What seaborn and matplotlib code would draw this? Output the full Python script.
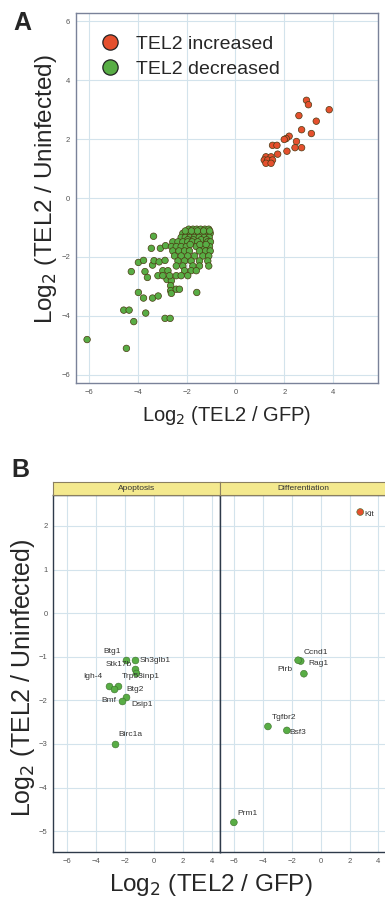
import pandas as pd
import matplotlib.pyplot as plt
from matplotlib.lines import Line2D
import seaborn as sns

sns.set_theme(style="whitegrid")
plt.rcParams['font.family'] = ['Liberation Sans', 'DejaVu Sans']

# ---- Panel A data: genes with TEL2 increased / decreased ----
inc_x = [2.91, 2.99, 3.84, 2.60, 3.31, 2.71, 3.11, 2.20, 2.08, 2.00, 2.50, 1.52,
         1.70, 2.44, 2.71, 2.11, 1.73, 1.25, 1.46, 1.18, 1.32, 1.52, 1.25, 1.46]
inc_y = [3.32, 3.17, 3.00, 2.80, 2.61, 2.32, 2.19, 2.10, 2.02, 1.99, 1.92, 1.79,
         1.79, 1.71, 1.71, 1.59, 1.49, 1.40, 1.40, 1.29, 1.29, 1.29, 1.18, 1.18]

dec_x = [-6.07, -4.46, -4.57, -4.35, -4.16, -3.67, -2.88, -2.67, -3.97, -3.76,
         -3.39, -3.16, -1.58, -4.26, -3.70, -3.60, -3.97, -3.76, -3.39, -3.33,
         -3.12, -2.88, -2.80, -3.44, -3.07, -2.86, -3.35,
         -2.62, -2.65, -2.65, -2.62, -2.42, -2.29,
         -1.91, -1.74, -1.58, -1.42, -1.25, -1.09,
         -2.15, -1.99, -1.82, -1.66, -1.50, -1.33, -1.17, -1.03,
         -2.05, -1.80, -1.55, -1.30, -1.05,
         -2.22, -2.05, -1.86, -1.68, -1.48, -1.27, -1.07,
         -1.95, -1.72, -1.40, -1.18,
         -2.56, -2.35, -2.15, -1.95, -1.77, -1.54, -1.13, -1.02,
         -2.62, -2.42, -2.22, -2.01, -1.60, -1.33, -1.06,
         -1.85, -1.45, -1.20,
         -2.56, -2.31, -2.08, -1.88, -1.47, -1.22, -1.03,
         -2.49, -2.22, -1.95, -1.67, -1.33, -1.09,
         -2.35, -2.08, -1.81, -1.47, -1.13,
         -2.42, -2.15, -1.74, -1.47, -1.09,
         -2.97, -2.76, -2.08, -1.81, -1.60,
         -3.17, -2.97, -2.69, -2.42, -2.22, -1.95]
dec_y = [-4.81, -5.11, -3.81, -3.81, -4.20, -3.91, -4.09, -4.09, -3.21, -3.40,
         -3.40, -3.33, -3.21, -2.50, -2.50, -2.70, -2.19, -2.12, -2.28, -2.13,
         -2.17, -2.12, -2.77, -1.71, -1.71, -1.62, -1.30,
         -2.81, -2.98, -3.15, -3.24, -3.10, -3.10,
         -1.06, -1.06, -1.06, -1.06, -1.06, -1.06,
         -1.20, -1.20, -1.20, -1.20, -1.20, -1.20, -1.20, -1.20,
         -1.12, -1.12, -1.12, -1.12, -1.12,
         -1.34, -1.34, -1.34, -1.34, -1.34, -1.34, -1.34,
         -1.42, -1.42, -1.42, -1.42,
         -1.49, -1.49, -1.49, -1.49, -1.49, -1.49, -1.49, -1.49,
         -1.65, -1.65, -1.65, -1.65, -1.65, -1.65, -1.65,
         -1.58, -1.58, -1.58,
         -1.80, -1.80, -1.80, -1.80, -1.80, -1.80, -1.80,
         -1.97, -1.97, -1.97, -1.97, -1.97, -1.97,
         -2.14, -2.14, -2.14, -2.14, -2.14,
         -2.31, -2.31, -2.31, -2.31, -2.31,
         -2.47, -2.47, -2.47, -2.47, -2.47,
         -2.64, -2.64, -2.64, -2.64, -2.64, -2.64]

# ---- Panel B data: apoptosis / differentiation genes ----
apo_genes = ["Btg1", "Sh3glb1", "Stk17b", "Trp53inp1", "Igh-4", "Btg2", "",
             "Dsip1", "Bmf", "Birc1a"]
apo_x = [-1.89, -1.29, -1.29, -1.20, -3.13, -2.50, -2.74, -1.93, -2.23, -2.71]
apo_y = [-1.08, -1.08, -1.29, -1.37, -1.67, -1.67, -1.75, -1.92, -2.02, -3.00]

dif_genes = ["Kit", "Ccnd1", "Pirb", "Rag1", "Tgfbr2", "Bsf3", "Prm1"]
dif_x = [2.74, -1.38, -1.56, -1.16, -3.65, -2.34, -6.01]
dif_y = [2.32, -1.10, -1.08, -1.39, -2.60, -2.69, -4.80]
dif_dir = ["up", "down", "down", "down", "down", "down", "down"]

# label placement (offset in pixels, alignment)
label_pos = {
    "Btg1": (-14, 9, "center"), "Sh3glb1": (4, 0, "left"),
    "Stk17b": (-3, 5, "right"), "Trp53inp1": (-15, -4, "left"),
    "Igh-4": (-6, 9, "right"), "Btg2": (9, -4, "left"),
    "Dsip1": (5, -8, "left"), "Bmf": (-5, 1, "right"),
    "Birc1a": (4, 9, "left"),
    "Kit": (4, -2, "left"), "Ccnd1": (3, 9, "left"), "Pirb": (-6, -9, "right"),
    "Rag1": (4, 10, "left"), "Tgfbr2": (4, 9, "left"), "Bsf3": (3, -2, "left"),
    "Prm1": (4, 9, "left"),
}

RED = "#e5502e"
GREEN = "#58ad45"
GRID = "#d3e3ec"
TICK = "#555555"

fig = plt.figure(figsize=(3.85, 9), dpi=100)

# ================= Panel A =================
dfa = pd.DataFrame({
    "x": inc_x + dec_x,
    "y": inc_y + dec_y,
    "grp": ["TEL2 increased"] * len(inc_x) + ["TEL2 decreased"] * len(dec_x),
})
axA = fig.add_axes([0.197, 0.574, 0.785, 0.412])
sns.scatterplot(data=dfa, x="x", y="y", hue="grp",
                palette={"TEL2 increased": RED, "TEL2 decreased": GREEN},
                s=22, edgecolor="#4a3a12", linewidth=0.5, legend=False, ax=axA)
axA.set_xlim(-6.53, 5.84)
axA.set_ylim(-6.3, 6.3)
axA.set_xticks([-6, -4, -2, 0, 2, 4])
axA.set_yticks([-6, -4, -2, 0, 2, 4, 6])
axA.set_xlabel("Log$_2$ (TEL2 / GFP)", fontsize=14.5, labelpad=6)
axA.set_ylabel("")
fig.text(0.12, 0.79, "Log$_2$ (TEL2 / Uninfected)", fontsize=17.5,
         ha="center", va="center", rotation=90)
handles = [Line2D([], [], marker="o", ls="", markersize=11, markerfacecolor=c,
                  markeredgecolor="#222222", markeredgewidth=0.9)
           for c in (RED, GREEN)]
axA.legend(handles, ["TEL2 increased", "TEL2 decreased"], loc="upper left",
           frameon=False, fontsize=14, handletextpad=0.3, labelspacing=0.35,
           borderaxespad=0.3, bbox_to_anchor=(0.005, 0.975))
fig.text(0.035, 0.975, "A", fontsize=18, fontweight="bold", va="center")

# ================= Panel B =================
dfb_apo = pd.DataFrame({"x": apo_x, "y": apo_y, "gene": apo_genes})
dfb_dif = pd.DataFrame({"x": dif_x, "y": dif_y, "gene": dif_genes, "dir": dif_dir})

axL = fig.add_axes([0.138, 0.0533, 0.434, 0.3967])
axR = fig.add_axes([0.5714, 0.0533, 0.434, 0.3967])
sns.scatterplot(data=dfb_apo, x="x", y="y", color=GREEN, s=24,
                edgecolor="#3b6e2a", linewidth=0.4, ax=axL)
sns.scatterplot(data=dfb_dif, x="x", y="y", hue="dir",
                palette={"up": RED, "down": GREEN}, s=24,
                edgecolor="#3b6e2a", linewidth=0.4, legend=False, ax=axR)

for ax, df, title in ((axL, dfb_apo, "Apoptosis"), (axR, dfb_dif, "Differentiation")):
    ax.set_xlim(-6.97, 4.6)
    ax.set_ylim(-5.48, 2.71)
    ax.set_xticks([-6, -4, -2, 0, 2, 4])
    ax.set_yticks([-5, -4, -3, -2, -1, 0, 1, 2])
    ax.set_xlabel("")
    ax.set_ylabel("")
    for g, gx, gy in zip(df["gene"], df["x"], df["y"]):
        if not g:
            continue
        dx, dy, ha = label_pos[g]
        ax.annotate(g, (gx, gy), xytext=(dx, dy), textcoords="offset pixels",
                    ha=ha, va="center", fontsize=6, color="#333333")
    for s in ax.spines.values():
        s.set_color("#2e3a4a")
        s.set_linewidth(1.0)
    pos = ax.get_position()
    strip = fig.add_axes([pos.x0, pos.y1, pos.width, 0.0144])
    strip.set_facecolor("#f4e98e")
    strip.set_xticks([])
    strip.set_yticks([])
    strip.grid(False)
    for s in strip.spines.values():
        s.set_color("#8a7f60")
        s.set_linewidth(0.8)
    strip.text(0.5, 0.5, title, ha="center", va="center", fontsize=6,
               color="#333333", transform=strip.transAxes)

fig.text(0.548, 0.0165, "Log$_2$ (TEL2 / GFP)", fontsize=17.5, ha="center", va="center")
fig.text(0.06, 0.2467, "Log$_2$ (TEL2 / Uninfected)", fontsize=18, ha="center",
         va="center", rotation=90)
fig.text(0.03, 0.478, "B", fontsize=18, fontweight="bold", va="center")

for ax in (axA, axL, axR):
    ax.grid(True, color=GRID, linewidth=0.8)
    ax.set_axisbelow(True)
    ax.tick_params(labelsize=5.5, labelcolor=TICK, length=2.5, width=0.6,
                   color="#666666", pad=1.5)
for s in axA.spines.values():
    s.set_color("#7a8299")
    s.set_linewidth(1.0)
axR.tick_params(axis="y", labelleft=False, length=0)

fig.savefig("out.png", dpi=100)
